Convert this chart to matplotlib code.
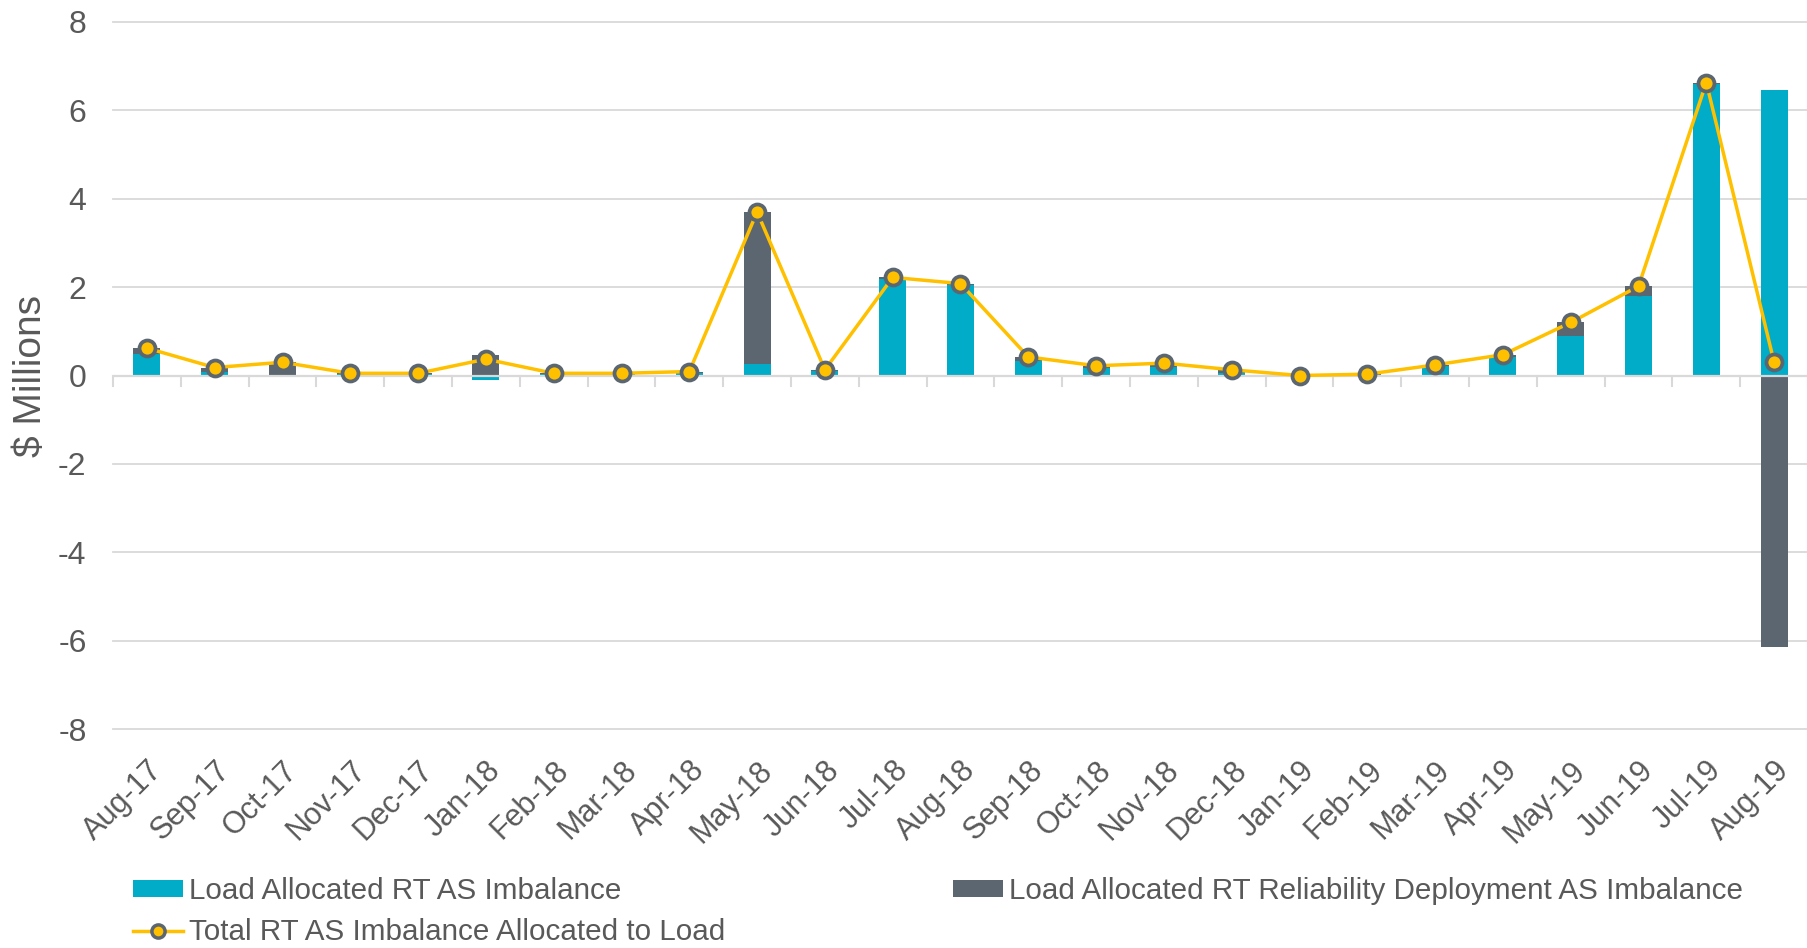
import numpy as np
import matplotlib
matplotlib.use("Agg")
import matplotlib.pyplot as plt
from matplotlib.lines import Line2D
from matplotlib.patches import Patch

# Monthly real-time AS imbalance allocated to load ($ millions)
months = ["Aug-17", "Sep-17", "Oct-17", "Nov-17", "Dec-17", "Jan-18", "Feb-18",
          "Mar-18", "Apr-18", "May-18", "Jun-18", "Jul-18", "Aug-18", "Sep-18",
          "Oct-18", "Nov-18", "Dec-18", "Jan-19", "Feb-19", "Mar-19", "Apr-19",
          "May-19", "Jun-19", "Jul-19", "Aug-19"]
rt_as = [0.48, 0.08, 0.02, 0.03, 0.03, -0.10, 0.03, 0.03, 0.05, 0.26, 0.11,
         2.19, 2.04, 0.32, 0.16, 0.20, 0.05, 0.01, 0.02, 0.22, 0.43, 0.89,
         1.80, 6.60, 6.45]
rt_reliability = [0.14, 0.10, 0.28, 0.02, 0.02, 0.47, 0.02, 0.02, 0.04, 3.44,
                  0.02, 0.03, 0.04, 0.10, 0.06, 0.08, 0.08, -0.01, 0.01, 0.02,
                  0.04, 0.31, 0.22, 0.03, -6.15]
total = [0.62, 0.18, 0.30, 0.05, 0.05, 0.37, 0.05, 0.05, 0.09, 3.70, 0.13,
         2.22, 2.08, 0.42, 0.22, 0.28, 0.13, 0.00, 0.03, 0.24, 0.47, 1.20,
         2.02, 6.63, 0.30]
y_ticks = [-8, -6, -4, -2, 0, 2, 4, 6, 8]

CYAN = "#00ACC8"
SLATE = "#5B6670"
GOLD = "#FFC000"
GRID = "#D9D9D9"
TEXT = "#595959"

plt.rcParams["font.family"] = ["Liberation Sans", "DejaVu Sans"]

fig = plt.figure(figsize=(18.08, 9.48), dpi=100)
ax = fig.add_axes([0.0625, 0.2310, 0.9375, 0.7458])

x = np.arange(len(months))
a = np.array(rt_as)
b = np.array(rt_reliability)
# stack the second series on the first only when both share a sign
bottom = np.where(np.sign(a) == np.sign(b), a, 0.0)

width = 0.40
ax.bar(x, a, width, color=CYAN, zorder=2)
ax.bar(x, b, width, bottom=bottom, color=SLATE, zorder=2)

ax.plot(x, total, color=GOLD, lw=2.5, marker="o", ms=11.5,
        markerfacecolor=GOLD, markeredgecolor=SLATE, markeredgewidth=2.7,
        zorder=4, clip_on=False)

ax.set_xlim(-0.5, len(months) - 0.5)
ax.set_ylim(-8, 8)

for v in y_ticks:
    if v != 0:
        ax.axhline(v, color=GRID, lw=1.3, zorder=1, clip_on=False)
ax.axhline(0, color=GRID, lw=1.6, zorder=3)

for s in ax.spines.values():
    s.set_visible(False)

ax.set_yticks(y_ticks)
ax.set_yticklabels([str(v) for v in y_ticks])
ax.tick_params(axis="y", length=0, pad=19, labelsize=23, labelcolor=TEXT)

ax.set_xticks(x)
ax.set_xticklabels(months, rotation=45, ha="right", rotation_mode="anchor")
ax.tick_params(axis="x", which="major", length=0, pad=19, labelsize=22,
               labelcolor=TEXT)

# category boundary ticks hanging from the zero line
for xb in np.arange(-0.5, len(months), 1.0):
    ax.plot([xb, xb], [0, -0.23], color=GRID, lw=1.5, zorder=1, clip_on=False)

ax.set_ylabel("$ Millions", fontsize=28, color=TEXT)
ax.yaxis.set_label_coords(-0.038, 0.5)

handles = [Patch(facecolor=CYAN, edgecolor="none"),
           Line2D([0], [0], color=GOLD, lw=2.5, marker="o", ms=9.5,
                  markerfacecolor=GOLD, markeredgecolor=SLATE,
                  markeredgewidth=2.5),
           Patch(facecolor=SLATE, edgecolor="none")]
labels = ["Load Allocated RT AS Imbalance",
          "Total RT AS Imbalance Allocated to Load",
          "Load Allocated RT Reliability Deployment AS Imbalance"]
fig.legend(handles, labels, loc="upper left", bbox_to_anchor=(0.0735, 0.075),
           bbox_transform=fig.transFigure, ncol=2, frameon=False,
           fontsize=21.3, labelcolor=TEXT, handlelength=1.7,
           handleheight=0.55, handletextpad=0.2, columnspacing=7.7,
           labelspacing=0.45, borderpad=0, borderaxespad=0)

fig.savefig("out.png", dpi=100)
